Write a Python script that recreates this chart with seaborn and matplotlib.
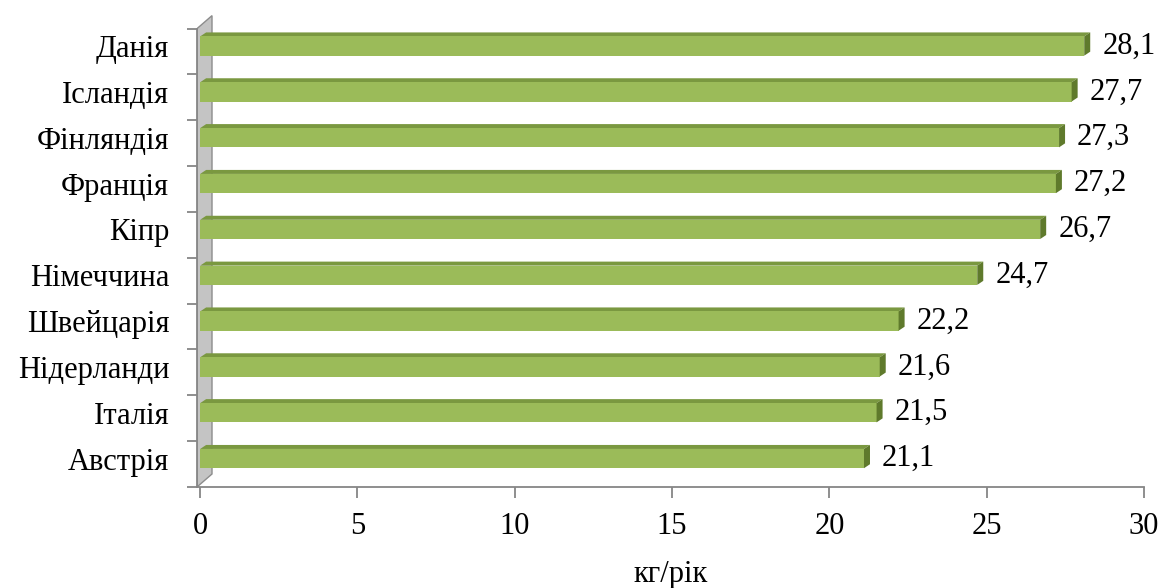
import matplotlib
matplotlib.use("Agg")
import matplotlib.pyplot as plt
import seaborn as sns
import pandas as pd
import numpy as np
from matplotlib.patches import Polygon

countries = ["Данія", "Ісландія", "Фінляндія", "Франція", "Кіпр",
             "Німеччина", "Швейцарія", "Нідерланди", "Італія", "Австрія"]
values = [28.1, 27.7, 27.3, 27.2, 26.7, 24.7, 22.2, 21.6, 21.5, 21.1]
x_ticks = [0, 5, 10, 15, 20, 25, 30]
x_label = "кг/рік"

df = pd.DataFrame({"country": countries, "value": values})

sns.set_theme(style="white")
plt.rcParams["font.family"] = ["Liberation Serif", "DejaVu Serif"]

W, H = 1161, 588
FS = 22
fig = plt.figure(figsize=(W / 100, H / 100), dpi=100)
ax = fig.add_axes([197 / W, (H - 487) / H, (1144 - 197) / W, (487 - 8) / H])

FACE = "#9BBB59"
TOP = "#7A9840"
SIDE = "#5F7A2C"
AXC = "#868686"

sns.barplot(data=df, x="value", y="country", orient="h", color=FACE,
            width=0.42, saturation=1, ax=ax, zorder=3, linewidth=0, edgecolor="none")

ax.set_xlim(-0.1, 30)
ax.set_ylim(9.62, -0.83)
ax.set_xticks(x_ticks)
ax.set_xticklabels([str(t) for t in x_ticks], fontsize=FS, color="black")
ax.set_xlabel(x_label, fontsize=FS, color="black", labelpad=14)
ax.set_ylabel("")
ax.tick_params(axis="y", which="major", left=False, length=0, pad=20, labelsize=FS, labelcolor="black")
ax.set_yticks([i - 0.38 for i in range(len(countries) + 1)], minor=True)
ax.tick_params(axis="y", which="minor", left=True, length=7, width=1.3, color=AXC, direction="out")
ax.tick_params(axis="x", which="major", bottom=True, length=8, width=1.3, color=AXC,
               direction="out", pad=10)

for s in ["top", "right"]:
    ax.spines[s].set_visible(False)
for s in ["left", "bottom"]:
    ax.spines[s].set_color(AXC)
    ax.spines[s].set_linewidth(1.3)
ax.spines["left"].set_bounds(9.62, -0.38)
ax.set_facecolor("white")

fig.canvas.draw()
inv = ax.transData.inverted()


def px_to_data(dx_px, dy_px, x0=0.0, y0=0.0):
    p0 = ax.transData.transform((x0, y0))
    p1 = inv.transform((p0[0] + dx_px, p0[1] + dy_px))
    return p1[0] - x0, p1[1] - y0


bars = list(ax.patches)

# 3D wall on the left
wdx, wdy = px_to_data(15, 13)
x_left = -0.1
wall = Polygon([(x_left, 9.62), (x_left, -0.38), (x_left + wdx, -0.38 + wdy),
                (x_left + wdx, 9.62 + wdy)], closed=True,
               facecolor="#C4C4C4", edgecolor="#8C8C8C", lw=1.0, zorder=1)
ax.add_patch(wall)

# 3D faces of bars
ddx, ddy = px_to_data(6, 4)
for p in bars:
    x0, y0 = p.get_x(), p.get_y()
    w, h = p.get_width(), p.get_height()
    ytop = min(y0, y0 + h)
    ybot = max(y0, y0 + h)
    x1 = x0 + w
    top = Polygon([(x0, ytop), (x1, ytop), (x1 + ddx, ytop + ddy), (x0 + ddx, ytop + ddy)],
                  closed=True, facecolor=TOP, edgecolor="none", zorder=2.9)
    side = Polygon([(x1, ytop), (x1 + ddx, ytop + ddy), (x1 + ddx, ybot + ddy), (x1, ybot)],
                   closed=True, facecolor=SIDE, edgecolor="none", zorder=3.1)
    ax.add_patch(top)
    ax.add_patch(side)

ax.bar_label(ax.containers[0], labels=[f"{v:.1f}".replace(".", ",") for v in values],
             padding=13, fontsize=FS, color="black")

fig.savefig("out.png", dpi=100, facecolor="white")
